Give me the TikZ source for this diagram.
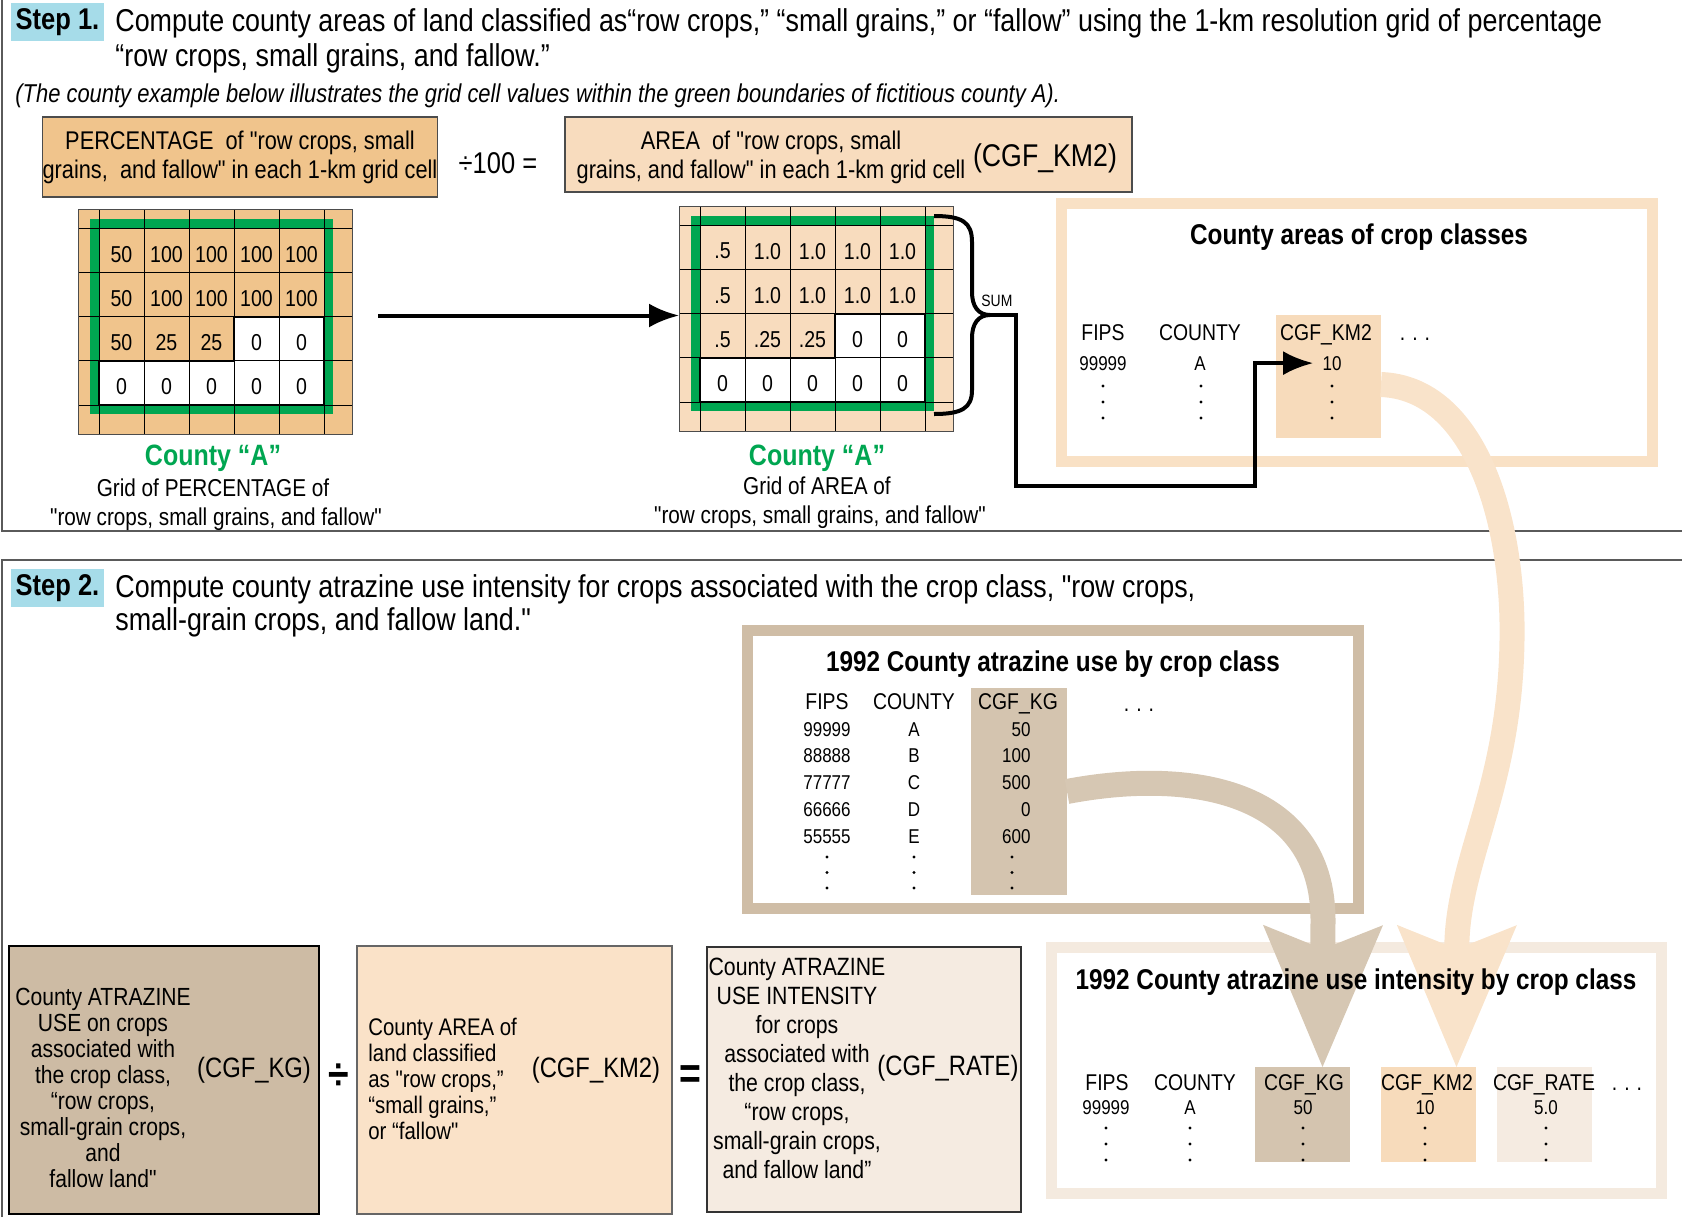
\documentclass[tikz,border=0pt]{standalone}
\usepackage{fontspec}
\setmainfont{Liberation Sans}[Ligatures=TeXOff,FakeStretch=0.85]
\usetikzlibrary{arrows.meta,calc,positioning}
\definecolor{stepcyan}{RGB}{166,220,233}
\definecolor{countygreen}{RGB}{0,166,81}
\definecolor{pctorange}{RGB}{240,196,140}
\definecolor{areapeach}{RGB}{248,220,190}
\definecolor{peachframe}{RGB}{249,225,197}
\definecolor{peachband}{RGB}{249,227,202}
\definecolor{kmshade}{RGB}{247,219,187}
\definecolor{tanframe}{RGB}{207,189,166}
\definecolor{tanshade}{RGB}{212,196,175}
\definecolor{tanband}{RGB}{214,199,179}
\definecolor{usetan}{RGB}{205,187,164}
\definecolor{kmbox}{RGB}{250,226,200}
\definecolor{ratelight}{RGB}{245,235,225}
\definecolor{rateframe}{RGB}{244,234,223}
\definecolor{panelgray}{RGB}{90,90,90}

\tikzset{
  panelrule/.style={panelgray,line width=0.8pt},
  stepbox/.style={fill=stepcyan,inner sep=0,minimum width=46.5pt,minimum height=19pt,font=\fontsize{15}{17}\selectfont\bfseries},
  headtxt/.style={anchor=base west,inner sep=0,font=\fontsize{15.8}{17.5}\selectfont},
  notetxt/.style={anchor=base west,inner sep=0,font=\fontsize{12.9}{14}\selectfont\itshape},
  boxtxt/.style={inner sep=0,align=center,font=\fontsize{12.8}{14.5}\selectfont},
  cellnum/.style={inner sep=0,font=\fontsize{11.5}{13}\selectfont},
  gridline/.style={line width=0.5pt},
  countylbl/.style={anchor=base,inner sep=0,text=countygreen,font=\fontsize{14.7}{17}\selectfont\bfseries},
  gridcap/.style={anchor=base,inner sep=0,font=\fontsize{12.2}{14}\selectfont},
  tabtitle/.style={anchor=base,inner sep=0,font=\fontsize{14.3}{16}\selectfont\bfseries},
  colhead/.style={anchor=base,inner sep=0,font=\fontsize{11.4}{14}\selectfont},
  colval/.style={anchor=base,inner sep=0,font=\fontsize{10}{12}\selectfont},
  shadecol/.style={inner sep=0,outer sep=0},
  bottxt/.style={inner sep=0,align=center,font=\fontsize{12.4}{13}\selectfont},
  unittxt/.style={anchor=base,inner sep=0,font=\fontsize{14}{16}\selectfont},
  opsign/.style={inner sep=0,font=\fontsize{22}{24}\selectfont\bfseries},
  flowline/.style={line width=2pt},
  bandtip/.style={-{Stealth[length=71pt,width=60pt,inset=12pt,line width=0pt]}}
}

% one county grid: #1 origin, #2 name, #3 fill, #4 rows of values
\newcommand{\countygrid}[4]{%
  \begin{scope}[shift={#1}]
    \fill[#3] (0,0) rectangle (274,225);
    \fill[white] (156,107.5) rectangle (246,151.75);
    \fill[white] (21,151.75) rectangle (246,196);
    \draw[countygreen,line width=4.5pt] (16.5,14.5) rectangle (250.5,200.5);
    \foreach \gx in {21,66,111,156,201,246} \draw[gridline] (\gx,0) -- (\gx,225);
    \foreach \gy in {19,63.25,107.5,151.75,196} \draw[gridline] (0,\gy) -- (274,\gy);
    \draw[gridline,black!70] (0,0) rectangle (274,225);
    \draw[line width=1pt] (21,196) -- (21,151.75) -- (156,151.75) -- (156,107.5) -- (246,107.5) -- (246,196) -- cycle;
    \foreach \row [count=\r] in {#4}
      \foreach \v [count=\c] in \row
        \node[cellnum] (#2-\r-\c) at (21+45*\c-22.5,23+44.25*\r-22.125) {\v};
    \node[inner sep=0,outer sep=0,minimum width=137pt,minimum height=112.5pt] (#2) at (137,112.5) {};
  \end{scope}}

% three stacked dots under a table column: #1 x, #2 first y, #3 spacing
\newcommand{\coldots}[3]{\foreach \k in {0,1,2} {\fill (#1,{#2+#3*\k}) circle (0.8pt);}}

\begin{document}
\begin{tikzpicture}[x=0.5pt,y=-0.5pt,>=Latex]
  \useasboundingbox (0,0) rectangle (1682,1217);
  \draw[panelrule] (2,0) -- (2,531) -- (1682,531);
  \draw[panelrule] (2,1217) -- (2,560) -- (1682,560);

  % step 1
  \node[stepbox] (step1) at (57.5,22) {Step 1.};
  \node[headtxt] (step1a) at (115,31.5) {Compute county areas of land classified as“row crops,” “small grains,” or “fallow” using the 1-km resolution grid of percentage};
  \node[headtxt] (step1b) at (115,66.5) {“row crops, small grains, and fallow.”};
  \node[notetxt] (note) at (15,102) {(The county example below illustrates the grid cell values within the green boundaries of fictitious county A).};

  \node[boxtxt,draw=black!70,line width=0.7pt,fill=pctorange,minimum width=197pt,minimum height=40pt] (pctbox) at (240,157) {PERCENTAGE\ \ of "row crops, small\\grains,\ \ and fallow" in each 1-km grid cell};
  \node[inner sep=0,font=\fontsize{15}{17}\selectfont] (divhund) at (498,163) {÷100 =};
  \node[draw=black!70,line width=0.7pt,fill=areapeach,minimum width=283.5pt,minimum height=37.5pt,inner sep=0] (areabox) at (848.5,154.5) {};
  \node[boxtxt] (areatxt) at (771,157) {AREA\ \ of "row crops, small\\grains, and fallow" in each 1-km grid cell};
  \node[unittxt,font=\fontsize{15.7}{17}\selectfont] (areaunit) at (1045,166) {(CGF\_KM2)};

  \countygrid{(78,209)}{pctgrid}{pctorange}{{50,100,100,100,100},{50,100,100,100,100},{50,25,25,0,0},{0,0,0,0,0}}
  \countygrid{(679,206)}{areagrid}{areapeach}{{.5,1.0,1.0,1.0,1.0},{.5,1.0,1.0,1.0,1.0},{.5,.25,.25,0,0},{0,0,0,0,0}}

  \node[countylbl] (pctcounty) at (213,465.5) {County “A”};
  \node[gridcap] (pctcap1) at (213,496) {Grid of PERCENTAGE of};
  \node[gridcap] (pctcap2) at (216,525) {"row crops, small grains, and fallow"};
  \node[countylbl] (areacounty) at (817,465.5) {County “A”};
  \node[gridcap] (areacap1) at (817,494) {Grid of AREA of};
  \node[gridcap] (areacap2) at (820,523) {"row crops, small grains, and fallow"};

  % sum brace
  \draw[flowline] (934,216) .. controls (962,216) and (972,222) .. (972,242) -- (972,292)
    .. controls (972,306) and (978,315) .. (990,315) .. controls (978,315) and (972,324) .. (972,338)
    -- (972,390) .. controls (972,408) and (962,414) .. (934,414);
  \coordinate (sumtip) at (990,315);
  \coordinate (turn) at (1255,486);
  \node[anchor=base west,inner sep=0,font=\fontsize{8.2}{9}\selectfont] (sum) at (981,306) {SUM};

  % table frames and shaded columns
  \draw[peachframe,line width=5.5pt] (1061.5,203.5) rectangle (1652.5,461.5);
  \draw[tanframe,line width=5.5pt] (747.5,630) rectangle (1358.5,908.5);
  \draw[rateframe,line width=5.5pt] (1051.5,947.5) rectangle (1661.5,1193);
  \node[shadecol,fill=kmshade,minimum width=52.5pt,minimum height=61.5pt] (kmcol) at (1328.5,376.5) {};
  \node[shadecol,fill=tanshade,minimum width=48pt,minimum height=103.5pt] (kgcol) at (1019,791.5) {};
  \node[shadecol,fill=tanshade,minimum width=47.5pt,minimum height=47.5pt] (kgcol2) at (1302.5,1114.5) {};
  \node[shadecol,fill=kmshade,minimum width=47.5pt,minimum height=47.5pt] (kmcol2) at (1428.5,1114.5) {};
  \node[shadecol,fill=ratelight,minimum width=47.5pt,minimum height=47.5pt] (ratecol) at (1544.5,1114.5) {};

  % wide bands
  \draw[tanband,line width=12.5pt,bandtip] (kgcol.east) .. controls (1190,768) and (1323,790) .. (1323,920) -- ([xshift=10pt]kgcol2.north);
  \draw[peachband,line width=12.5pt,bandtip] ([yshift=-4pt]kmcol.east) .. controls (1475,388) and (1514,520) .. (1512,640)
    .. controls (1510,790) and (1457,860) .. ([xshift=14pt]kmcol2.north);

  % county areas table
  \node[tabtitle] (areastitle) at (1359,244) {County areas of crop classes};
  \node[colhead] (fipsA) at (1103,340) {FIPS};
  \node[colhead] (cntyA) at (1200,340) {COUNTY};
  \node[colhead] (kmA) at (1326,340) {CGF\_KM2};
  \node[colhead] (moreA) at (1415,340) {.\hspace{3.5pt}.\hspace{3.5pt}.};
  \node[colval] (fipsA1) at (1103,370) {99999};
  \node[colval] (cntyA1) at (1200,370) {A};
  \node[colval] (kmten) at (1332,370) {10};
  \coldots{1103}{386}{16}
  \coldots{1201}{386}{16}
  \coldots{1332}{386}{16}

  % step 2
  \node[stepbox] (step2) at (57.5,588) {Step 2.};
  \node[headtxt] (step2a) at (115,597) {Compute county atrazine use intensity for crops associated with the crop class, "row crops,};
  \node[headtxt] (step2b) at (115,630) {small-grain crops, and fallow land."};

  % 1992 use table
  \node[tabtitle] (usetitle) at (1053,671) {1992 County atrazine use by crop class};
  \node[colhead] (fipsB) at (827,709) {FIPS};
  \node[colhead] (cntyB) at (914,709) {COUNTY};
  \node[colhead] (kgB) at (1018,709) {CGF\_KG};
  \node[colhead] (moreB) at (1139,711) {.\hspace{3.5pt}.\hspace{3.5pt}.};
  \foreach \fips/\cnty/\kg [count=\i] in {99999/A/50,88888/B/100,77777/C/500,66666/D/0,55555/E/600}{
    \node[colval] (fipsB\i) at (827,{736+26.75*(\i-1)}) {\fips};
    \node[colval] (cntyB\i) at (914,{736+26.75*(\i-1)}) {\cnty};
    \node[colval,anchor=base east] (kgB\i) at (1031,{736+26.75*(\i-1)}) {\kg};
  }
  \coldots{827}{857}{15.5}
  \coldots{914}{857}{15.5}
  \coldots{1012}{857}{15.5}

  % formula boxes
  \node[draw=black,line width=1pt,fill=usetan,minimum width=155pt,minimum height=134pt,inner sep=0] (usebox) at (164,1080) {};
  \node[bottxt] (usetxt) at (103,1087.5) {County ATRAZINE\\USE on crops\\associated with\\the crop class,\\“row crops,\\small-grain crops,\\and\\fallow land"};
  \node[unittxt] (kgunit) at (254,1077) {(CGF\_KG)};
  \node[opsign] (divsign) at (339,1077) {÷};
  \node[draw=black!60,line width=0.8pt,fill=kmbox,minimum width=157.5pt,minimum height=134pt,inner sep=0] (areabox2) at (514.5,1080) {};
  \node[bottxt,align=left,anchor=west,font=\fontsize{12}{13}\selectfont] (areatxt2) at (368,1078.5) {County AREA of\\land classified\\as "row crops,”\\“small grains,”\\or “fallow"};
  \node[unittxt] (km2unit) at (596,1077) {(CGF\_KM2)};
  \node[opsign] (eqsign) at (690,1077) {=};
  \node[draw=black!80,line width=1pt,fill=ratelight,minimum width=157pt,minimum height=132.5pt,inner sep=0] (ratebox) at (864,1079.5) {};
  \node[bottxt,font=\fontsize{12.5}{14.5}\selectfont] (ratetxt) at (797,1068.5) {County ATRAZINE\\USE INTENSITY\\for crops\\associated with\\the crop class,\\“row crops,\\small-grain crops,\\and fallow land”};
  \node[unittxt] (rateunit) at (948,1075) {(CGF\_RATE)};

  % 1992 intensity table
  \node[tabtitle] (ratetitle) at (1356,989) {1992 County atrazine use intensity by crop class};
  \node[colhead] (fipsC) at (1107,1090) {FIPS};
  \node[colhead] (cntyC) at (1195,1090) {COUNTY};
  \node[colhead] (kgC) at (1304,1090) {CGF\_KG};
  \node[colhead] (kmC) at (1427,1090) {CGF\_KM2};
  \node[colhead] (rateC) at (1544,1090) {CGF\_RATE};
  \node[colhead] (moreC) at (1627,1090) {.\hspace{3.5pt}.\hspace{3.5pt}.};
  \node[colval] (fipsC1) at (1106,1114) {99999};
  \node[colval] (cntyC1) at (1190,1114) {A};
  \node[colval] (kgC1) at (1303,1114) {50};
  \node[colval] (kmC1) at (1425,1114) {10};
  \node[colval] (rateC1) at (1546,1114) {5.0};
  \foreach \dx in {1106,1190,1303,1425,1546} {\coldots{\dx}{1128}{16}}

  % connectors
  \draw[flowline,-{Latex[length=15pt,width=12pt]}] ($(pctgrid.east)+(26,-6)$) -- ($(pctgrid.east -| areagrid.west)+(0,-6)$);
  \draw[flowline,-{Latex[length=15pt,width=12pt]},shorten >=4.5pt] (sumtip) -- ++(26,0) |- (turn) |- (kmten.west);
\end{tikzpicture}
\end{document}
